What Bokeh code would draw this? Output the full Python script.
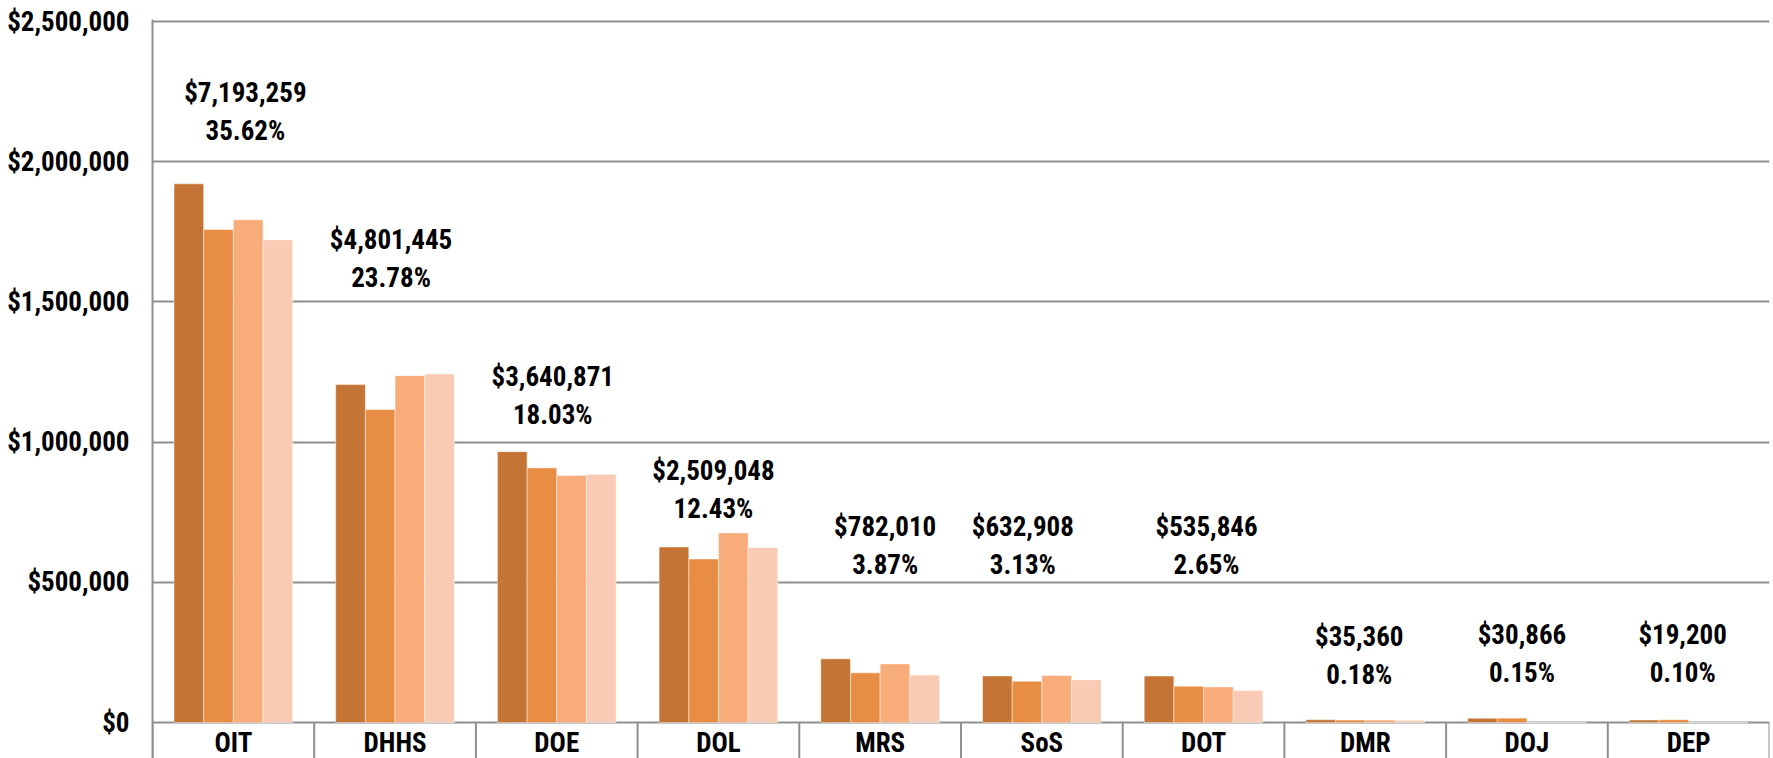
from bokeh.plotting import figure
from bokeh.models import Range1d, FixedTicker, NumeralTickFormatter
from bokeh.embed import file_html
from bokeh.resources import INLINE
from bokeh.core.properties import value

# ---------------- data ----------------
categories = ["OIT", "DHHS", "DOE", "DOL", "MRS", "SoS", "DOT", "DMR", "DOJ", "DEP"]
series_1 = [1921000, 1205000, 966000, 626000, 227000, 166000, 165500, 10000, 15200, 9000]
series_2 = [1758000, 1116000, 908000, 583000, 177000, 147000, 129500, 8800, 15666, 10200]
series_3 = [1793000, 1237000, 881000, 676000, 209000, 168000, 127000, 8800, 0, 0]
series_4 = [1721000, 1243000, 885000, 624000, 169000, 152000, 113800, 7760, 0, 0]
totals = ["$7,193,259", "$4,801,445", "$3,640,871", "$2,509,048", "$782,010",
          "$632,908", "$535,846", "$35,360", "$30,866", "$19,200"]
shares = ["35.62%", "23.78%", "18.03%", "12.43%", "3.87%", "3.13%", "2.65%",
          "0.18%", "0.15%", "0.10%"]
y_ticks = [0, 500000, 1000000, 1500000, 2000000, 2500000]

# ---------------- layout / style ----------------
W, H = 1773, 758
FONT = "Roboto Condensed, Lato"
FSIZE = "27px"
GRAY = "#8f8f8f"
colors = ["#C47536", "#E88E44", "#F8AC7A", "#F9CBB4"]
y_max = 2500000
px_span = 701          # pixels between $0 and $2.5M
below_px = 36          # category box height below $0
above_px = 2
y_start = -below_px * y_max / px_span
y_end = y_max + above_px * y_max / px_span
bar_w = 0.1835
# label anchor (data value at centre of the % line) and horizontal nudge
label_anchor = [2108000, 1587000, 1098000, 763000, 560000, 560000, 560000,
                168000, 178000, 178000]
label_dx = [12, -4, -4, -5, 5, -19, 3, -6, -5, -6]

n = len(categories)
centers = [i + 0.5 for i in range(n)]

p = figure(width=W, height=H, x_range=Range1d(0, n), y_range=Range1d(y_start, y_end),
           min_border_left=152, min_border_right=4, min_border_top=19,
           min_border_bottom=0, x_axis_location=None,
           output_backend="svg", toolbar_location=None)
p.outline_line_color = None
p.background_fill_color = "white"
p.border_fill_color = "white"

ax = p.yaxis[0]
ax.ticker = FixedTicker(ticks=y_ticks)
ax.formatter = NumeralTickFormatter(format="$0,0")
ax.major_tick_line_color = None
ax.minor_tick_line_color = None
ax.axis_line_color = GRAY
ax.axis_line_width = 2
ax.major_label_text_font = FONT
ax.major_label_text_font_style = "bold"
ax.major_label_text_font_size = FSIZE
ax.major_label_text_color = "black"
ax.major_label_standoff = 17

p.ygrid.grid_line_color = GRAY
p.ygrid.grid_line_width = 2
p.xgrid.visible = False

for j, s in enumerate([series_1, series_2, series_3, series_4]):
    xs = [c + (j - 1.5) * bar_w for c in centers]
    p.vbar(x=xs, top=s, bottom=0, width=bar_w, fill_color=colors[j],
           line_color="white", line_alpha=0.45, line_width=1)

bounds = list(range(n + 1))
p.segment(x0=bounds, y0=[0] * (n + 1), x1=bounds, y1=[y_start] * (n + 1),
          line_color=GRAY, line_width=2)

common = dict(text_font=value(FONT), text_font_style="bold", text_font_size=FSIZE,
              text_color="black", text_align="center", text_baseline="middle")
p.text(x=centers, y=label_anchor, text=shares, x_offset=label_dx, **common)
p.text(x=centers, y=label_anchor, text=totals, x_offset=label_dx, y_offset=-38, **common)
p.text(x=centers, y=[0] * n, text=categories, y_offset=20, **common)

open("out.html", "w").write(file_html(p, INLINE))
